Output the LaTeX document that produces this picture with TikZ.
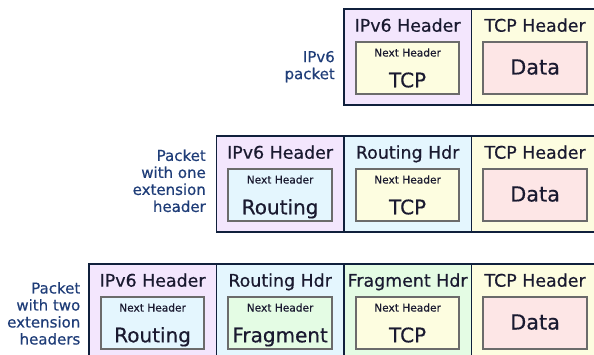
\documentclass[tikz,border=0pt]{standalone}
\usepackage{fontspec}
\setmainfont{DejaVu Sans}[FakeBold=0.5]
\usetikzlibrary{positioning}

\definecolor{ipvsix}{HTML}{F3E6FD}
\definecolor{routing}{HTML}{E4F6FE}
\definecolor{fragment}{HTML}{E4FCE4}
\definecolor{tcp}{HTML}{FDFDE0}
\definecolor{data}{HTML}{FDE6E6}
\definecolor{frame}{HTML}{10203C}
\definecolor{ink}{HTML}{1A1A30}
\definecolor{labelblue}{HTML}{1F3D78}

\begin{document}
\begin{tikzpicture}[x=1pt, y=-1pt,
		cell/.style = {draw = frame, line width = 1.7pt, anchor = north west,
			minimum width = 127.5pt, minimum height = 96pt, inner sep = 0pt},
		title/.style = {anchor = base, inner sep = 0pt, text = ink,
			font = \fontsize{17.4}{20}\selectfont},
		hdrbox/.style = {draw = black!58, line width = 1.8pt,
			minimum width = 103.5pt, minimum height = 52pt, inner sep = 0pt},
		nexthdr/.style = {anchor = base, inner sep = 0pt, text = ink,
			font = \fontsize{10.6}{12}\selectfont},
		nextval/.style = {anchor = base, inner sep = 0pt, text = ink,
			font = \fontsize{20}{23}\selectfont},
		datatext/.style = {anchor = base, inner sep = 0pt, text = ink,
			font = \fontsize{20.8}{24}\selectfont},
		rowlabel/.style = {anchor = north east, align = right, inner sep = 0pt,
			text = labelblue, font = \fontsize{15}{17}\selectfont}
	]
		\clip (0,0) rectangle (594,355);

		% packet cells: name/left/top/fill/title
		\foreach \nm/\lx/\ty/\fc/\ttl in {
				a1/343/8/ipvsix/IPv6 Header, a2/470.5/8/tcp/TCP Header,
				b1/215.5/135/ipvsix/IPv6 Header, b2/343/135/routing/Routing Hdr,
				b3/470.5/135/tcp/TCP Header,
				c1/88/263/ipvsix/IPv6 Header, c2/215.5/263/routing/Routing Hdr,
				c3/343/263/fragment/Fragment Hdr, c4/470.5/263/tcp/TCP Header}
			{
				\node[cell, fill = \fc] (\nm) at (\lx,\ty) {};
				\node[title] (\nm-t) at ([yshift = -23.7pt]\nm.north) {\ttl};
			}

		% next header fields
		\foreach \nm/\fc/\nxt in {a1/tcp/TCP, b1/routing/Routing, b2/tcp/TCP,
				c1/routing/Routing, c2/fragment/Fragment, c3/tcp/TCP}
			{
				\node[hdrbox, fill = \fc] (\nm-nh) at ([yshift = -60pt]\nm.north) {};
				\node[nexthdr] at ([yshift = -15.4pt]\nm-nh.north) {Next Header};
				\node[nextval] at ([yshift = 7.6pt]\nm-nh.south) {\nxt};
			}

		% payload
		\foreach \nm in {a2, b3, c4}
			{
				\node[hdrbox, fill = data] (\nm-d) at ([yshift = -60pt]\nm.north) {};
				\node[datatext] at ([yshift = -6.5pt]\nm-d.center) {Data};
			}

		% row labels
		\node[rowlabel] (lbl-a) at (335,50.8) {IPv6\\packet};
		\node[rowlabel] (lbl-b) at (206,149.3) {Packet\\with one\\extension\\header};
		\node[rowlabel] (lbl-c) at (80.5,281.9) {Packet\\with two\\extension\\headers};
	\end{tikzpicture}
\end{document}
